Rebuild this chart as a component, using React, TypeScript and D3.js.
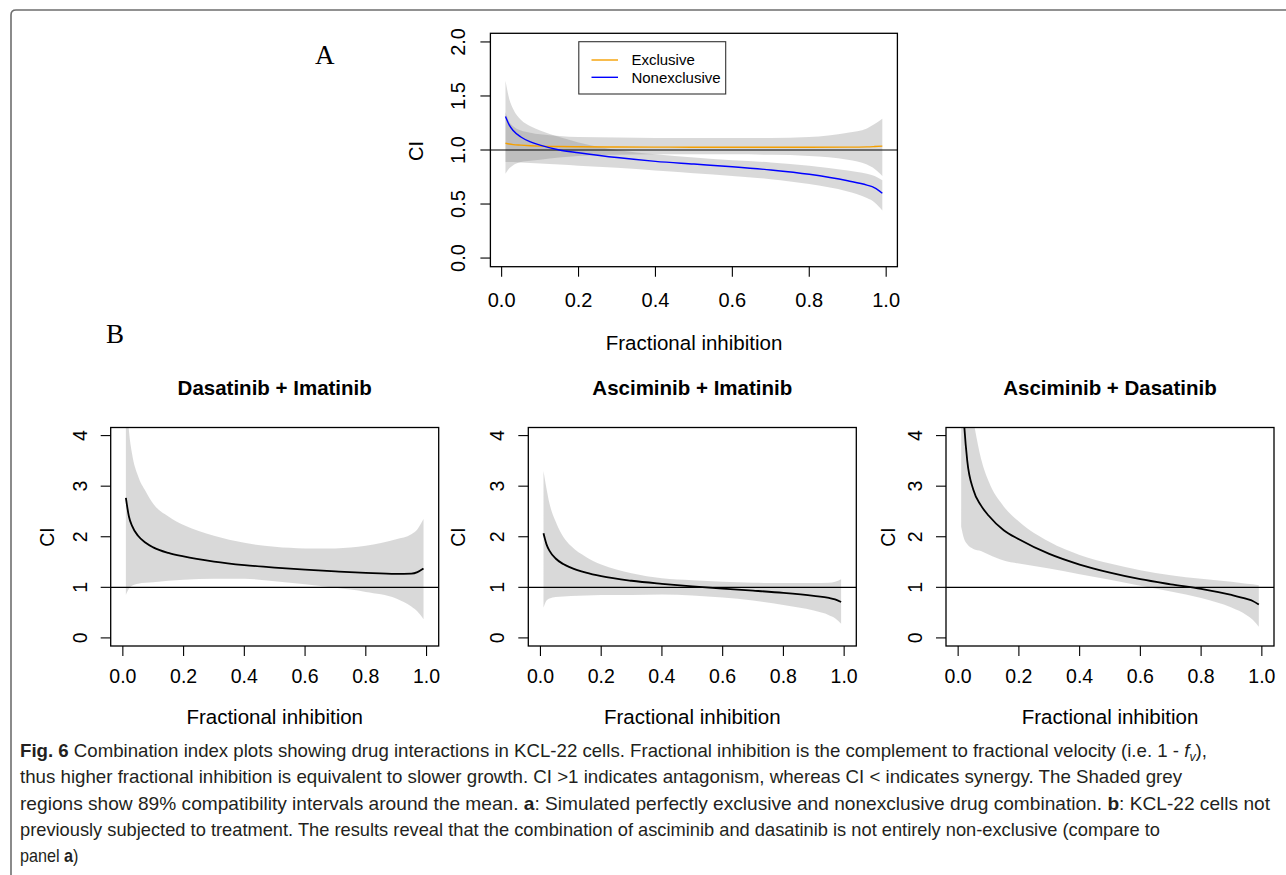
import React from "react";
import * as d3 from "d3";

// ---------------- DATA ----------------
const fracX = [0.01, 0.02, 0.03, 0.05, 0.075, 0.1, 0.15, 0.2, 0.3, 0.4, 0.5, 0.6, 0.7, 0.8, 0.9, 0.95, 0.97, 0.99];

// Panel A: simulated exclusive / nonexclusive
const nonexMean = [1.31, 1.23, 1.18, 1.12, 1.075, 1.045, 1.0, 0.975, 0.93, 0.895, 0.87, 0.845, 0.815, 0.775, 0.715, 0.675, 0.65, 0.6];
const nonexUpper = [1.64, 1.47, 1.38, 1.28, 1.22, 1.18, 1.12, 1.07, 1.0, 0.96, 0.93, 0.905, 0.885, 0.855, 0.81, 0.78, 0.76, 0.72];
const nonexLower = [0.89, 0.89, 0.89, 0.885, 0.88, 0.875, 0.865, 0.855, 0.835, 0.81, 0.785, 0.76, 0.73, 0.685, 0.615, 0.555, 0.515, 0.44];
const exMean = [1.062, 1.055, 1.05, 1.045, 1.04, 1.036, 1.032, 1.03, 1.028, 1.027, 1.026, 1.026, 1.026, 1.026, 1.027, 1.029, 1.032, 1.036];
const exUpper = [1.35, 1.26, 1.22, 1.18, 1.16, 1.145, 1.13, 1.12, 1.115, 1.11, 1.11, 1.11, 1.11, 1.12, 1.16, 1.2, 1.24, 1.29];
const exLower = [0.78, 0.83, 0.86, 0.89, 0.9, 0.91, 0.93, 0.945, 0.955, 0.96, 0.96, 0.96, 0.955, 0.945, 0.91, 0.865, 0.825, 0.76];

// Panel B: KCL-22 combinations
const dasImaMean = [2.77, 2.4, 2.22, 2.02, 1.88, 1.79, 1.68, 1.61, 1.51, 1.44, 1.39, 1.35, 1.315, 1.285, 1.265, 1.27, 1.3, 1.37];
const dasImaUpper = [5.0, 4.1, 3.65, 3.2, 2.9, 2.65, 2.4, 2.23, 2.02, 1.88, 1.8, 1.77, 1.77, 1.82, 1.95, 2.05, 2.15, 2.35];
const dasImaLower = [0.85, 0.97, 1.03, 1.07, 1.09, 1.1, 1.13, 1.15, 1.17, 1.17, 1.12, 1.06, 0.99, 0.91, 0.78, 0.62, 0.52, 0.37];

const ascImaMean = [2.07, 1.85, 1.72, 1.57, 1.46, 1.39, 1.29, 1.22, 1.13, 1.07, 1.02, 0.975, 0.935, 0.89, 0.83, 0.79, 0.76, 0.71];
const ascImaUpper = [3.3, 2.95, 2.65, 2.3, 2.0, 1.82, 1.6, 1.45, 1.28, 1.18, 1.14, 1.11, 1.09, 1.085, 1.085, 1.09, 1.11, 1.16];
const ascImaLower = [0.6, 0.74, 0.78, 0.81, 0.82, 0.83, 0.84, 0.85, 0.85, 0.86, 0.84, 0.8, 0.74, 0.65, 0.54, 0.45, 0.39, 0.28];

const ascDasMean = [5.3, 4.2, 3.5, 2.93, 2.62, 2.42, 2.13, 1.95, 1.66, 1.45, 1.29, 1.16, 1.06, 0.97, 0.85, 0.77, 0.73, 0.66];
const ascDasUpper = [6.0, 5.6, 5.0, 4.3, 3.55, 3.1, 2.6, 2.3, 1.9, 1.64, 1.47, 1.34, 1.24, 1.17, 1.11, 1.07, 1.06, 1.04];
const ascDasLower = [2.2, 1.95, 1.85, 1.76, 1.72, 1.65, 1.53, 1.47, 1.37, 1.26, 1.15, 1.03, 0.92, 0.79, 0.6, 0.45, 0.36, 0.22];

const xTickValues = [0, 0.2, 0.4, 0.6, 0.8, 1.0];
const yTicksA = [0, 0.5, 1.0, 1.5, 2.0];
const yTicksB = [0, 1, 2, 3, 4];
const panelBTitles = ["Dasatinib + Imatinib", "Asciminib + Imatinib", "Asciminib + Dasatinib"];
const legendLabels = ["Exclusive", "Nonexclusive"];
const legendColors = ["#F5A000", "#0000FF"];
const xAxisTitle = "Fractional inhibition";
const yAxisTitle = "CI";

const FONT = "'Liberation Sans', Arial, Helvetica, sans-serif";
const SERIF = "'Liberation Serif', 'Times New Roman', serif";
const CAPFONT = "'Liberation Sans Narrow', 'Liberation Sans', Arial, sans-serif";
const BAND = "rgba(128,128,128,0.3)";

function bandPath(x: any, y: any, lower: number[], upper: number[]) {
  return d3
    .area<number>()
    .x((d) => x(d))
    .y0((_, i) => y(lower[i]))
    .y1((_, i) => y(upper[i]))
    .curve(d3.curveMonotoneX)(fracX) as string;
}
function linePath(x: any, y: any, vals: number[]) {
  return d3
    .line<number>()
    .x((d) => x(d))
    .y((_, i) => y(vals[i]))
    .curve(d3.curveMonotoneX)(fracX) as string;
}

type Box = { left: number; right: number; top: number; bottom: number };

function Axes(props: {
  id: string;
  box: Box;
  x: any;
  y: any;
  yTicks: number[];
  yFmt: (v: number) => string;
  font: number;
  tickLen: number;
  xLabelBase: number;
  yLabelOff: number;
  ciOff: number;
  ciY: number;
  children?: React.ReactNode;
}) {
  const { box, x, y, yTicks, yFmt, font, tickLen, xLabelBase, yLabelOff, ciOff, ciY } = props;
  return (
    <g>
      <clipPath id={props.id}>
        <rect x={box.left} y={box.top} width={box.right - box.left} height={box.bottom - box.top} />
      </clipPath>
      <g clipPath={`url(#${props.id})`}>{props.children}</g>
      <rect
        x={box.left}
        y={box.top}
        width={box.right - box.left}
        height={box.bottom - box.top}
        fill="none"
        stroke="#000"
        strokeWidth={1.3}
      />
      {xTickValues.map((t) => (
        <g key={"xt" + t}>
          <line x1={x(t)} x2={x(t)} y1={box.bottom} y2={box.bottom + tickLen} stroke="#000" strokeWidth={1.1} />
          <text x={x(t)} y={xLabelBase} textAnchor="middle" fontFamily={FONT} fontSize={font} fill="#000">
            {t.toFixed(1)}
          </text>
        </g>
      ))}
      {yTicks.map((t) => (
        <g key={"yt" + t}>
          <line x1={box.left - tickLen} x2={box.left} y1={y(t)} y2={y(t)} stroke="#000" strokeWidth={1.1} />
          <text
            transform={`translate(${box.left - yLabelOff},${y(t)}) rotate(-90)`}
            textAnchor="middle"
            fontFamily={FONT}
            fontSize={font}
            fill="#000"
          >
            {yFmt(t)}
          </text>
        </g>
      ))}
      <text
        transform={`translate(${box.left - ciOff},${ciY}) rotate(-90)`}
        textAnchor="middle"
        fontFamily={FONT}
        fontSize={font}
        fill="#000"
      >
        {yAxisTitle}
      </text>
    </g>
  );
}

export default function App() {
  // ---- Panel A ----
  const boxA: Box = { left: 490.4, right: 897.4, top: 33.3, bottom: 266.7 };
  const xA = d3.scaleLinear().domain([-0.0292, 1.0292]).range([boxA.left, boxA.right]);
  const yA = d3.scaleLinear().domain([-0.08, 2.08]).range([boxA.bottom, boxA.top]);

  // ---- Panel B ----
  const bLefts = [110.7, 528.3, 946];
  const bCiOff = [57, 63, 51];
  const bWidth = 328;
  const bTop = 427.5;
  const bBottom = 646;
  const bSeries = [
    { mean: dasImaMean, upper: dasImaUpper, lower: dasImaLower },
    { mean: ascImaMean, upper: ascImaUpper, lower: ascImaLower },
    { mean: ascDasMean, upper: ascDasUpper, lower: ascDasLower },
  ];

  const capScale = 0.9;
  const capLines: { parts: React.ReactNode; len: number | null; y: number }[] = [
    {
      len: 1187,
      y: 757,
      parts: (
        <>
          <tspan fontWeight="bold">Fig. 6</tspan>
          <tspan> Combination index plots showing drug interactions in KCL-22 cells. Fractional inhibition is the complement to fractional velocity (i.e. 1 - </tspan>
          <tspan fontStyle="italic">f</tspan>
          <tspan fontSize={12} dy={4} fontStyle="italic">v</tspan>
          <tspan dy={-4}>),</tspan>
        </>
      ),
    },
    {
      len: 1162,
      y: 783,
      parts: (
        <tspan>
          thus higher fractional inhibition is equivalent to slower growth. CI &gt;1 indicates antagonism, whereas CI &lt; indicates synergy. The Shaded grey
        </tspan>
      ),
    },
    {
      len: 1250,
      y: 810,
      parts: (
        <>
          <tspan>regions show 89% compatibility intervals around the mean. </tspan>
          <tspan fontWeight="bold">a</tspan>
          <tspan>: Simulated perfectly exclusive and nonexclusive drug combination. </tspan>
          <tspan fontWeight="bold">b</tspan>
          <tspan>: KCL-22 cells not</tspan>
        </>
      ),
    },
    {
      len: 1140,
      y: 836,
      parts: (
        <tspan>
          previously subjected to treatment. The results reveal that the combination of asciminib and dasatinib is not entirely non-exclusive (compare to
        </tspan>
      ),
    },
    {
      len: null,
      y: 862,
      parts: (
        <>
          <tspan>panel </tspan>
          <tspan fontWeight="bold">a</tspan>
          <tspan>)</tspan>
        </>
      ),
    },
  ];

  return (
    <svg
      width={1286}
      height={875}
      viewBox="0 0 1286 875"
      style={{ position: "absolute", left: 0, top: 0, background: "#fff" }}
    >
      <rect x={0} y={0} width={1286} height={875} fill="#fff" />
      {/* frame */}
      <path d="M 11 875 L 11 15 Q 11 10 16 10 L 1286 10" fill="none" stroke="#6e6e6e" strokeWidth={1.6} />

      {/* Panel labels */}
      <text x={324.7} y={64} textAnchor="middle" fontFamily={SERIF} fontSize={27} fill="#000">
        A
      </text>
      <text x={115} y={343} textAnchor="middle" fontFamily={SERIF} fontSize={27} fill="#000">
        B
      </text>

      {/* Panel A */}
      <Axes
        id="clipA"
        box={boxA}
        x={xA}
        y={yA}
        yTicks={yTicksA}
        yFmt={(v) => v.toFixed(1)}
        font={20}
        tickLen={10}
        xLabelBase={306.5}
        yLabelOff={25}
        ciOff={67.5}
        ciY={151}
      >
        <path d={bandPath(xA, yA, exLower, exUpper)} fill={BAND} />
        <path d={bandPath(xA, yA, nonexLower, nonexUpper)} fill={BAND} />
        <line x1={boxA.left} x2={boxA.right} y1={yA(1)} y2={yA(1)} stroke="#000" strokeWidth={1.2} />
        <path d={linePath(xA, yA, exMean)} fill="none" stroke={legendColors[0]} strokeWidth={1.4} />
        <path d={linePath(xA, yA, nonexMean)} fill="none" stroke={legendColors[1]} strokeWidth={1.4} />
      </Axes>
      {/* legend A */}
      <rect x={578.8} y={41.7} width={146.9} height={52.3} fill="#fff" stroke="#333" strokeWidth={1.1} />
      {legendLabels.map((lab, i) => (
        <g key={lab}>
          <line x1={591.5} x2={618} y1={60 + i * 17.3} y2={60 + i * 17.3} stroke={legendColors[i]} strokeWidth={1.4} />
          <text x={631.4} y={65.4 + i * 17.3} fontFamily={FONT} fontSize={15} fill="#000">
            {lab}
          </text>
        </g>
      ))}
      <text x={694} y={350} textAnchor="middle" fontFamily={FONT} fontSize={20.5} fill="#000">
        {xAxisTitle}
      </text>

      {/* Panel B */}
      {bSeries.map((s, k) => {
        const box: Box = { left: bLefts[k], right: bLefts[k] + bWidth, top: bTop, bottom: bBottom };
        const x = d3.scaleLinear().domain([-0.04, 1.04]).range([box.left, box.right]);
        const y = d3.scaleLinear().domain([-0.16, 4.16]).range([box.bottom, box.top]);
        const cx = (box.left + box.right) / 2;
        return (
          <g key={"b" + k}>
            <Axes
              id={"clipB" + k}
              box={box}
              x={x}
              y={y}
              yTicks={yTicksB}
              yFmt={(v) => String(v)}
              font={19.5}
              tickLen={10}
              xLabelBase={683}
              yLabelOff={24}
              ciOff={bCiOff[k]}
              ciY={537}
            >
              <path d={bandPath(x, y, s.lower, s.upper)} fill={BAND} />
              <line x1={box.left} x2={box.right} y1={y(1)} y2={y(1)} stroke="#000" strokeWidth={1.2} />
              <path d={linePath(x, y, s.mean)} fill="none" stroke="#000" strokeWidth={1.8} />
            </Axes>
            <text x={cx} y={395} textAnchor="middle" fontFamily={FONT} fontWeight="bold" fontSize={20.5} fill="#000">
              {panelBTitles[k]}
            </text>
            <text x={cx} y={724} textAnchor="middle" fontFamily={FONT} fontSize={20.5} fill="#000">
              {xAxisTitle}
            </text>
          </g>
        );
      })}

      {/* Caption */}
      {capLines.map((l, i) => (
        <text
          key={"cap" + i}
          transform={`translate(20,${l.y}) scale(${capScale},1)`}
          fontFamily={CAPFONT}
          fontSize={18}
          fill="#231f20"
          {...(l.len ? { textLength: l.len / capScale, lengthAdjust: "spacingAndGlyphs" } : {})}
        >
          {l.parts}
        </text>
      ))}
    </svg>
  );
}
